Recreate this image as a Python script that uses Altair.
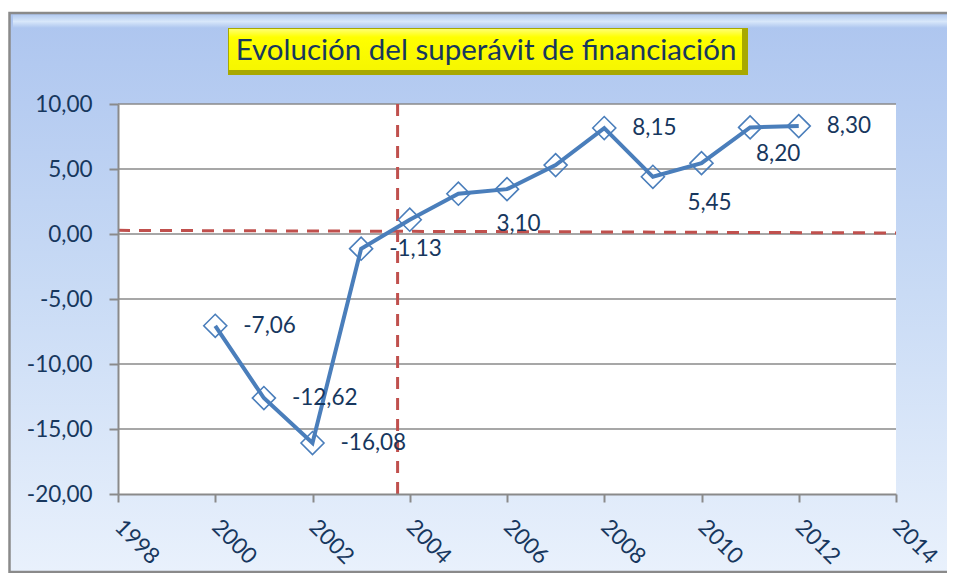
import altair as alt
import pandas as pd

# ---- data ----
years = [2000, 2001, 2002, 2003, 2004, 2005, 2006, 2007, 2008, 2009, 2010, 2011, 2012]
values = [-7.06, -12.62, -16.08, -1.13, 1.10, 3.10, 3.45, 5.30, 8.15, 4.40, 5.45, 8.20, 8.30]
x_ticks = [1998, 2000, 2002, 2004, 2006, 2008, 2010, 2012, 2014]
y_ticks = [-20, -15, -10, -5, 0, 5, 10]
grid_values = [-15, -10, -5, 0, 5, 10]
labels_right = [2000, 2001, 2002, 2003, 2008, 2012]
labels_below_right = [2005]
labels_below = [2010]
labels_below_mid = [2011]
vline_x = [2003.75]
hline_x = [1998, 2014]
hline_y = [0.28, 0.08]
title_text = "Evolución del superávit de financiación"

W, H = 778, 390
TXT = "#17375e"
GRAY = "#8a8a8a"
FONT = "Lato"

df = pd.DataFrame({"year": years, "v": values})
df["lbl"] = [f"{v:.2f}".replace(".", ",") for v in values]
one = pd.DataFrame({"a": [0]})

x_enc = alt.X("year:Q",
              scale=alt.Scale(domain=[1998, 2014], nice=False, zero=False),
              axis=alt.Axis(values=x_ticks, format="d", labelAngle=45, labelAlign="left",
                            labelBaseline="middle", labelPadding=21, tickSize=8,
                            labelFont=FONT, labelFontSize=22.5, labelColor=TXT,
                            domainColor=GRAY, domainWidth=2, tickColor=GRAY, tickWidth=2,
                            grid=False, title=None, zindex=1, labelOverlap=False))
y_enc = alt.Y("v:Q",
              scale=alt.Scale(domain=[-20, 10], nice=False, zero=False),
              axis=alt.Axis(values=y_ticks,
                            labelExpr="replace(replace(format(datum.value, '.2f'), '.', ','), '\u2212', '-')",
                            labelPadding=17, tickSize=9,
                            labelFont=FONT, labelFontSize=22.5, labelColor=TXT,
                            domainColor=GRAY, domainWidth=2, tickColor=GRAY, tickWidth=2,
                            grid=False, title=None, zindex=1))

frame = alt.Chart(one).mark_rect(
    fill=alt.Gradient(gradient="linear", x1=0, x2=0, y1=0, y2=1,
                      stops=[alt.GradientStop(color="#adc5ef", offset=0),
                             alt.GradientStop(color="#c9dbf5", offset=0.5),
                             alt.GradientStop(color="#e9f1fc", offset=1)]),
    stroke=GRAY, strokeWidth=2.5
).encode(x=alt.value(-108.5), x2=alt.value(840), y=alt.value(-91), y2=alt.value(468))

band = alt.Chart(one).mark_rect(
    fill=alt.Gradient(gradient="linear", x1=0, x2=0, y1=0, y2=1,
                      stops=[alt.GradientStop(color="#b5ccf0", offset=0),
                             alt.GradientStop(color="#d8e7fa", offset=0.5),
                             alt.GradientStop(color="#aec6ef", offset=1)])
).encode(x=alt.value(-105), x2=alt.value(840), y=alt.value(-89), y2=alt.value(-76))

tbox_dark = alt.Chart(one).mark_rect(fill="#a8a800").encode(
    x=alt.value(110), x2=alt.value(630), y=alt.value(-76), y2=alt.value(-29))
tbox = alt.Chart(one).mark_rect(
    fill=alt.Gradient(gradient="linear", x1=0, x2=0, y1=0, y2=1,
                      stops=[alt.GradientStop(color="#ffff70", offset=0),
                             alt.GradientStop(color="#ffff00", offset=0.2),
                             alt.GradientStop(color="#f6f600", offset=1)])
).encode(x=alt.value(111), x2=alt.value(624), y=alt.value(-75), y2=alt.value(-34))
ttext = alt.Chart(one).mark_text(
    text=title_text, font=FONT, fontSize=29.5, color=TXT, align="center", baseline="middle"
).encode(x=alt.value(368), y=alt.value(-53))

plot_bg = alt.Chart(one).mark_rect(fill="white").encode(
    x=alt.value(0), x2=alt.value(W), y=alt.value(0), y2=alt.value(H))

grid = alt.Chart(pd.DataFrame({"v": grid_values})).mark_rule(
    color=GRAY, strokeWidth=1.6).encode(y=y_enc, x=alt.value(0), x2=alt.value(W))

vline = alt.Chart(pd.DataFrame({"year": vline_x})).mark_rule(
    color="#c0504d", strokeWidth=3, strokeDash=[12, 9]
).encode(x=x_enc, y=alt.value(0), y2=alt.value(H))

hdf = pd.DataFrame({"year": [hline_x[0]], "year2": [hline_x[1]],
                    "v": [hline_y[0]], "v2": [hline_y[1]]})
hline = alt.Chart(hdf).mark_rule(
    color="#c0504d", strokeWidth=3, strokeDash=[12, 9]
).encode(x=x_enc, x2="year2:Q", y=y_enc, y2="v2:Q")

line = alt.Chart(df).mark_line(color="#4a7ebb", strokeWidth=4).encode(x=x_enc, y=y_enc)
pts = alt.Chart(df).mark_point(shape="diamond", size=530, filled=False,
                               color="#4a7ebb", strokeWidth=1.6, opacity=1).encode(x=x_enc, y=y_enc)


def labels(sel, **kw):
    return alt.Chart(df).transform_filter(
        alt.FieldOneOfPredicate(field="year", oneOf=sel)
    ).mark_text(font=FONT, fontSize=22.5, color=TXT, baseline="middle", **kw).encode(
        x=x_enc, y=y_enc, text="lbl:N")


lab1 = labels(labels_right, align="left", dx=28)
lab2 = labels(labels_below_right, align="left", dx=38, dy=30)
lab3 = labels(labels_below, align="center", dx=8, dy=40)
lab4 = labels(labels_below_mid, align="center", dx=28, dy=27)

chart = alt.layer(
    frame, band, tbox_dark, tbox, ttext, plot_bg, grid, hline, vline, line, pts,
    lab1, lab2, lab3, lab4
).properties(
    width=W, height=H,
    autosize=alt.AutoSizeParams(type="none"),
    padding={"left": 110, "top": 96, "right": 51, "bottom": 79},
    background="white"
).configure_view(stroke=None)

chart.save("out.html", embed_options={"renderer": "svg", "actions": False})
